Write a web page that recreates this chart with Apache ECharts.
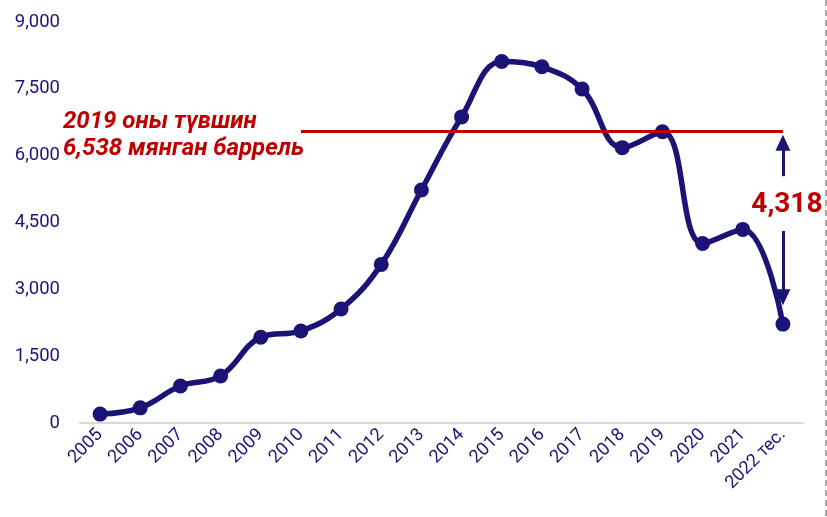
<!DOCTYPE html>
<html>
<head>
<meta charset="utf-8">
<script src="https://cdn.jsdelivr.net/npm/echarts@6/dist/echarts.min.js"></script>
<style>
  html, body { margin: 0; padding: 0; background: #fff; }
  #myChart { width: 827px; height: 517px; }
</style>
</head>
<body>
<div id="myChart"></div>
<script>
// years and output (thousand barrels)
var years = ['2005', '2006', '2007', '2008', '2009', '2010', '2011', '2012', '2013',
             '2014', '2015', '2016', '2017', '2018', '2019', '2020', '2021', '2022 тес.'];
var output = [200, 340, 830, 1055, 1925, 2065, 2560, 3560, 5230,
              6870, 8115, 7995, 7495, 6180, 6538, 4030, 4345, 2220];
var level2019 = 6538;
var drop = 4318;
var yTicks = [0, 1500, 3000, 4500, 6000, 7500, 9000];

var navy = '#1b1476';
var red = '#c00000';

var chart = echarts.init(document.getElementById('myChart'));
chart.setOption({
    animation: false,
    grid: { left: 80, right: 24, top: 22, bottom: 94 },
    xAxis: {
        type: 'category',
        data: years,
        boundaryGap: true,
        axisLine: { lineStyle: { color: '#d9d9d9', width: 2 } },
        axisTick: { show: false },
        axisLabel: {
            rotate: 45, interval: 0, margin: 9,
            color: navy, fontFamily: 'Roboto', fontSize: 18
        }
    },
    yAxis: {
        type: 'value',
        min: yTicks[0], max: yTicks[yTicks.length - 1], interval: 1500,
        axisLine: { show: false },
        axisTick: { show: false },
        splitLine: { show: false },
        axisLabel: {
            color: navy, fontFamily: 'Roboto', fontSize: 18.5, margin: 20,
            formatter: function (v) { return v.toLocaleString('en-US'); }
        }
    },
    series: [{
        type: 'line',
        data: output,
        smooth: 0.4,
        symbol: 'circle',
        symbolSize: 15,
        lineStyle: { color: navy, width: 5.5 },
        itemStyle: { color: navy },
        z: 3,
        markLine: {
            silent: true,
            animation: false,
            symbolSize: [15, 16],
            label: { show: false },
            data: [
                [{ coord: [5.12, level2019], symbol: 'none', lineStyle: { color: red, width: 3, type: 'solid' } },
                 { coord: [17.04, level2019], symbol: 'none' }],
                [{ coord: [16.95, level2019 - 250], symbol: 'triangle', lineStyle: { color: navy, width: 3, type: 'solid' } },
                 { coord: [16.95, 5540], symbol: 'none' }],
                [{ coord: [16.95, 4310], symbol: 'none', lineStyle: { color: navy, width: 3, type: 'solid' } },
                 { coord: [16.95, level2019 - drop + 600], symbol: 'triangle' }]
            ]
        },
        markPoint: {
            silent: true,
            symbolSize: 0,
            data: [{
                coord: [17, 4890],
                label: {
                    show: true, formatter: drop.toLocaleString('en-US'), offset: [4, 0],
                    color: red, fontFamily: 'Roboto', fontWeight: 'bold', fontSize: 28
                }
            }]
        }
    }],
    graphic: [
        {
            type: 'text', left: 63, top: 108,
            style: {
                text: '2019 оны түвшин\n6,538 мянган баррель',
                fill: red, font: 'italic bold 24px Roboto', lineHeight: 27
            }
        },
        {
            type: 'line',
            shape: { x1: 826, y1: 0, x2: 826, y2: 517 },
            style: { stroke: '#a6a6a6', lineWidth: 2, lineDash: [6, 4] }
        }
    ]
});
</script>
</body>
</html>
